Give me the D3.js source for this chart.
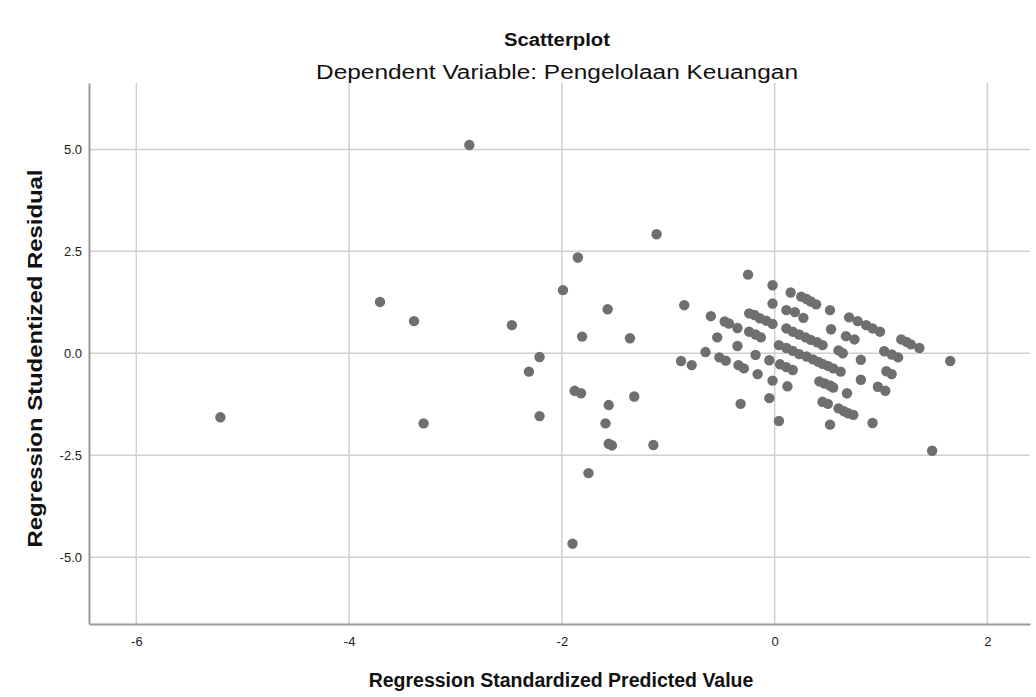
<!DOCTYPE html>
<html>
<head>
<meta charset="utf-8">
<script src="https://cdn.jsdelivr.net/npm/d3@7"></script>
<style>
    body { margin: 0; background: #fff; }
    text { font-family: "Liberation Sans", Arial, sans-serif; fill: #111; }
</style>
</head>
<body>
<div id="chart"></div>
<script>
// regression standardized predicted value (x) and studentized residual (y)
const predicted = [
    -2.87, -1.11, -1.85, -1.99, -3.71, -3.39, -2.47, -1.57, -1.81, -1.36,
    -2.21, -2.31, -1.88, -1.82, -1.32, -1.56, -5.21, -3.30, -2.21, -1.59,
    -1.56, -1.53, -1.14, -1.75, -1.90, 1.48, 1.65,
    -0.85, -0.88, -0.78, -0.65, -0.60, -0.54, -0.52, -0.46, -0.47, -0.43,
    -0.35, -0.35, -0.34, -0.29, -0.32, -0.25,
    -0.24, -0.19, -0.14, -0.08, -0.02,
    -0.24, -0.18, -0.13,
    -0.18, -0.16, -0.05, -0.02, -0.05, 0.04, -0.02, -0.02, 0.15,
    0.25, 0.30, 0.34, 0.39, 0.52, 0.11, 0.19, 0.27, 0.53,
    0.11, 0.17, 0.23, 0.29, 0.34, 0.40, 0.45,
    0.04, 0.11, 0.17, 0.23, 0.30, 0.36, 0.41, 0.45, 0.50, 0.55, 0.62,
    0.05, 0.11, 0.17, 0.12,
    0.42, 0.47, 0.52, 0.55, 0.45, 0.50, 0.52,
    0.60, 0.65, 0.69, 0.74, 0.68, 0.70,
    0.78, 0.86, 0.92, 0.99, 0.67, 0.75, 0.60, 0.64, 0.81, 0.81, 0.92,
    1.03, 1.10, 1.16, 1.05, 1.10, 0.97, 1.04,
    1.19, 1.24, 1.28, 1.36
];
const residual = [
    5.11, 2.92, 2.35, 1.55, 1.26, 0.79, 0.69, 1.08, 0.41, 0.37,
    -0.09, -0.45, -0.92, -0.98, -1.06, -1.27, -1.57, -1.72, -1.54, -1.72,
    -2.22, -2.26, -2.25, -2.94, -4.67, -2.39, -0.19,
    1.18, -0.19, -0.29, 0.03, 0.91, 0.39, -0.10, -0.18, 0.78, 0.73,
    0.62, 0.18, -0.29, -0.37, -1.24, 1.93,
    0.98, 0.94, 0.86, 0.80, 0.72,
    0.53, 0.46, 0.39,
    -0.04, -0.51, -0.17, -0.67, -1.10, -1.66, 1.67, 1.22, 1.49,
    1.39, 1.33, 1.27, 1.20, 1.06, 1.06, 1.01, 0.87, 0.59,
    0.61, 0.53, 0.46, 0.39, 0.33, 0.27, 0.20,
    0.20, 0.13, 0.06, -0.02, -0.08, -0.15, -0.21, -0.26, -0.31, -0.37, -0.45,
    -0.27, -0.34, -0.41, -0.81,
    -0.69, -0.74, -0.79, -0.84, -1.19, -1.24, -1.75,
    -1.35, -1.42, -1.47, -1.51, -0.98, 0.88,
    0.79, 0.69, 0.61, 0.53, 0.42, 0.34, 0.07, 0.00, -0.16, -0.65, -1.71,
    0.05, -0.03, -0.10, -0.44, -0.51, -0.82, -0.92,
    0.34, 0.28, 0.22, 0.13
];
const xTicks = [-6, -4, -2, 0, 2];
const yTicks = [-5.0, -2.5, 0.0, 2.5, 5.0];

const titleText = "Scatterplot";
const subtitleText = "Dependent Variable: Pengelolaan Keuangan";
const xLabel = "Regression Standardized Predicted Value";
const yLabel = "Regression Studentized Residual";

const margin = { top: 83, right: 6, bottom: 73, left: 89 };
const width = 1036 - margin.left - margin.right;
const height = 697 - margin.top - margin.bottom;

const points = predicted.map(function (d, i) {
    return { x: d, y: residual[i] };
});

const svg = d3.select("#chart").append("svg")
    .attr("width", 1036)
    .attr("height", 697);

const g = svg.append("g")
    .attr("transform", "translate(" + margin.left + "," + margin.top + ")");

const x = d3.scaleLinear().domain([-6.445, 2.40]).range([0, width]);
const y = d3.scaleLinear().domain([-6.64, 6.63]).range([height, 0]);

// grid lines
g.selectAll(".vgrid")
    .data(xTicks)
    .enter().append("line")
    .attr("class", "vgrid")
    .attr("x1", d => x(d)).attr("x2", d => x(d))
    .attr("y1", 0).attr("y2", height)
    .style("stroke", "#cfcfcf")
    .style("stroke-width", 1.5);

g.selectAll(".hgrid")
    .data(yTicks)
    .enter().append("line")
    .attr("class", "hgrid")
    .attr("x1", 0).attr("x2", width)
    .attr("y1", d => y(d)).attr("y2", d => y(d))
    .style("stroke", "#cfcfcf")
    .style("stroke-width", 1.5);

// axes, no tick marks, plain hyphen for minus
const xAxis = g.append("g")
    .attr("transform", "translate(0," + height + ")")
    .call(d3.axisBottom(x).tickValues(xTicks).tickSize(0).tickPadding(13).tickFormat(d => String(d)));
const yAxis = g.append("g")
    .call(d3.axisLeft(y).tickValues(yTicks).tickSize(0).tickPadding(7).tickFormat(d => d.toFixed(1)));

[xAxis, yAxis].forEach(function (a) {
    a.select(".domain").style("stroke", "#9a9a9a").style("stroke-width", 2);
    a.selectAll("text")
        .style("font-family", "'Liberation Sans', Arial, sans-serif")
        .style("font-size", "13px")
        .style("fill", "#222");
});

// points
g.selectAll(".dot")
    .data(points)
    .enter().append("circle")
    .attr("class", "dot")
    .attr("cx", d => x(d.x))
    .attr("cy", d => y(d.y))
    .attr("r", 5.2)
    .style("fill", "#6f6f6f");

// titles
svg.append("text")
    .attr("x", 557)
    .attr("y", 46)
    .style("text-anchor", "middle")
    .style("font-weight", "bold")
    .style("font-size", "18px")
    .attr("textLength", 106)
    .attr("lengthAdjust", "spacingAndGlyphs")
    .text(titleText);

svg.append("text")
    .attr("x", 557)
    .attr("y", 79)
    .style("text-anchor", "middle")
    .style("font-size", "20px")
    .attr("textLength", 482)
    .attr("lengthAdjust", "spacingAndGlyphs")
    .text(subtitleText);

svg.append("text")
    .attr("x", 561)
    .attr("y", 687)
    .style("text-anchor", "middle")
    .style("font-weight", "bold")
    .style("font-size", "19.5px")
    .text(xLabel);

svg.append("text")
    .attr("transform", "translate(42," + (margin.top + height / 2 + 5) + ") rotate(-90)")
    .style("text-anchor", "middle")
    .style("font-weight", "bold")
    .style("font-size", "20px")
    .attr("textLength", 378)
    .attr("lengthAdjust", "spacingAndGlyphs")
    .text(yLabel);
</script>
</body>
</html>
